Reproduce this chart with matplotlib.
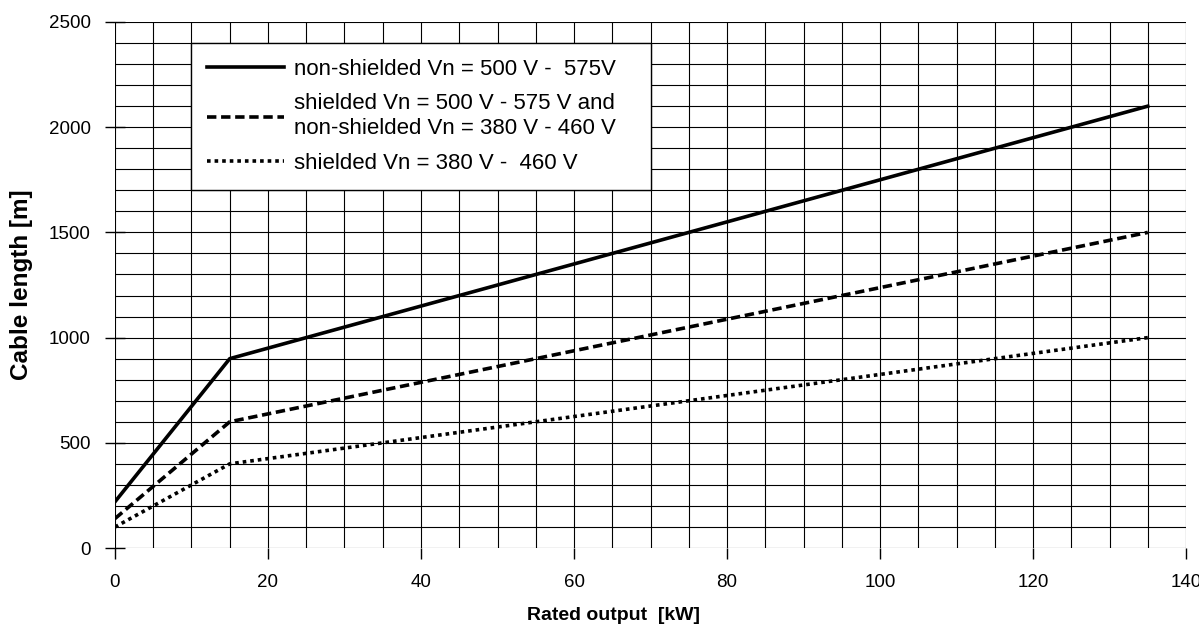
import matplotlib
matplotlib.use("Agg")
import matplotlib.pyplot as plt
import numpy as np

plt.rcParams['font.family'] = ['Liberation Sans', 'DejaVu Sans']

# rated output [kW] at the break points
output_kw = [0, 15, 135]
# cable length [m]
nonshielded_500_575 = [220, 900, 2100]
shielded_500_575 = [140, 600, 1500]
shielded_380_460 = [100, 400, 1000]

labels = [
    "non-shielded Vn = 500 V -  575V",
    "shielded Vn = 500 V - 575 V and\nnon-shielded Vn = 380 V - 460 V",
    "shielded Vn = 380 V -  460 V",
]

fig = plt.figure(figsize=(11.99, 6.34), dpi=100)
ax = fig.add_axes([0.0959, 0.1356, 0.8933, 0.8297])

ax.plot(output_kw, nonshielded_500_575, color='black', lw=2.6, ls='-', label=labels[0])
ax.plot(output_kw, shielded_500_575, color='black', lw=2.6, ls=(0, (2.6, 1.3)), label=labels[1])
ax.plot(output_kw, shielded_380_460, color='black', lw=2.6, ls=(0, (1, 1.1)), label=labels[2])

ax.set_xlim(0, 140)
ax.set_ylim(0, 2500)
ax.set_xticks(np.arange(0, 141, 20))
ax.set_yticks(np.arange(0, 2501, 500))
ax.set_xticks(np.arange(0, 141, 5), minor=True)
ax.set_yticks(np.arange(0, 2501, 100), minor=True)
ax.grid(True, which='both', color='black', lw=0.8)
ax.set_axisbelow(True)
for s in ax.spines.values():
    s.set_visible(False)
ax.tick_params(axis='x', which='major', direction='out', length=8, width=1, pad=11, labelsize=13.5)
ax.tick_params(axis='y', which='major', direction='inout', length=15, width=1, pad=10, labelsize=13.5)
ax.tick_params(which='minor', length=0)

ax.set_ylabel("Cable length [m]", fontsize=17.5, fontweight='bold')
ax.yaxis.set_label_coords(-0.077, 0.5)
ax.set_xlabel("Rated output  [kW]", fontsize=14, fontweight='bold')
ax.xaxis.set_label_coords(0.465, -0.112)

leg = ax.legend(loc='upper left', bbox_to_anchor=(10 / 140, 0.68, 60 / 140, 0.28),
                mode='expand', fontsize=16, frameon=True, fancybox=False,
                edgecolor='black', framealpha=1, handlelength=3.45, handletextpad=0.45,
                borderaxespad=0, borderpad=0.7, labelspacing=0.62)
leg.get_frame().set_linewidth(1.0)
for t in leg.get_texts():
    t.set_linespacing(1.25)

fig.savefig("out.png", dpi=100)
